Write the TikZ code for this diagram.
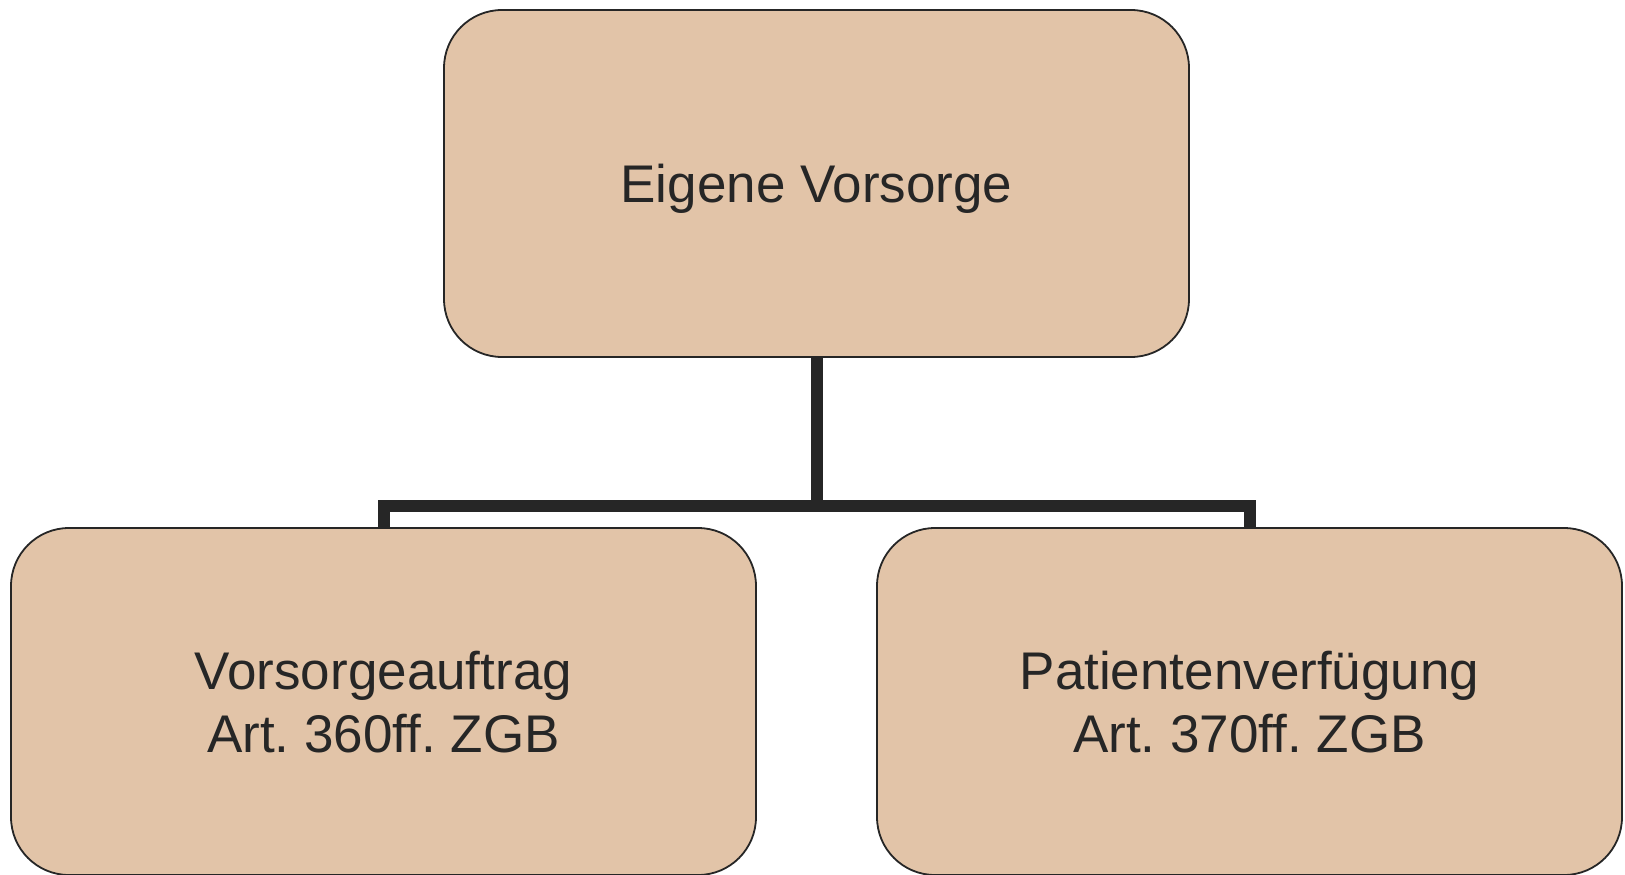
\documentclass[tikz,border=0pt]{standalone}
\usepackage{fontspec}
\setmainfont{Liberation Sans}
\frenchspacing
\definecolor{boxfill}{RGB}{226,196,168}
\definecolor{ink}{RGB}{38,38,38}
\begin{document}
\begin{tikzpicture}[x=1pt,y=-1pt,
  box/.style={draw=ink, line width=1.8pt, fill=boxfill, rounded corners=58pt,
    minimum width=745pt, minimum height=347pt, inner sep=0pt, align=center,
    text=ink, font=\fontsize{53}{63}\selectfont\frenchspacing},
  onel/.style={text height=38pt, text depth=0pt},
  twol/.style={text height=101pt, text depth=0pt},
  conn/.style={draw=ink, line width=12pt, line join=miter}]
\useasboundingbox (0,0) rectangle (1625,875);
\node[box,onel] (top) at (816.5,183.5) {Eigene Vorsorge};
\node[box,twol] (left) at (383.5,701.5) {Vorsorgeauftrag\\Art. 360ff. ZGB};
\node[box,twol] (right) at (1249.5,701.5) {Patientenverfügung\\Art. 370ff. ZGB};
\coordinate (bar) at (816.5,506);
\draw[conn] (top.south) -- (bar);
\draw[conn] (left.north) |- (bar) -| (right.north);
\end{tikzpicture}
\end{document}
